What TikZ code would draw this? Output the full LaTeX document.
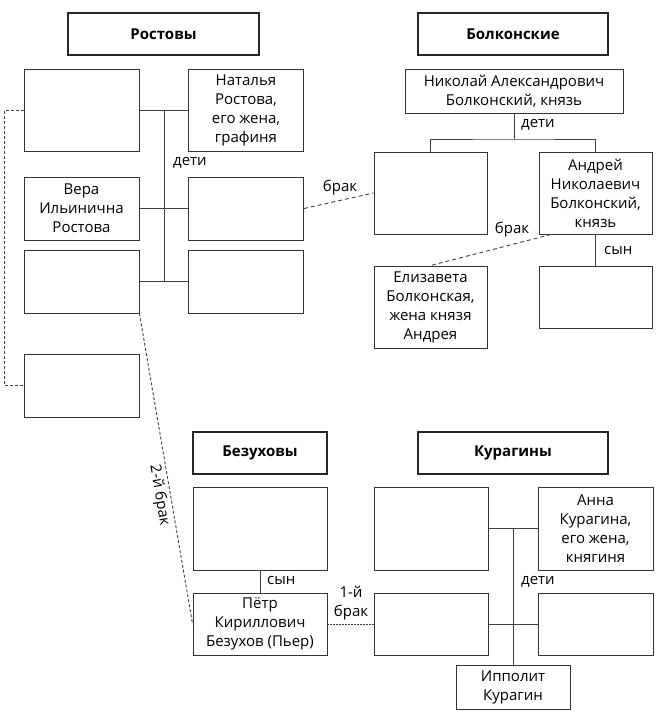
\documentclass[tikz,border=0pt]{standalone}
\usepackage{fontspec}
\setmainfont{Open Sans}
\tikzset{famhead/.style={draw=black!85,line width=2pt,minimum height=42pt,inner sep=0pt,
   font=\bfseries\fontsize{15}{18}\selectfont},
 person/.style={draw=black!80,line width=0.9pt,align=center,inner sep=0pt,
   font=\fontsize{15}{19}\selectfont,text=black},
 bigbox/.style={person,minimum width=115pt,minimum height=82pt},
 smallbox/.style={person,minimum width=115pt,minimum height=63pt},
 link/.style={draw=black!75,line width=0.9pt},
 wed/.style={draw=black!75,line width=0.9pt,dash pattern=on 4pt off 3pt},
 kin/.style={font=\fontsize{15}{19}\selectfont,text=black,inner sep=0pt,align=center},
 }

\begin{document}
\begin{tikzpicture}[x=1pt,y=-1pt]
        \useasboundingbox (0,0) rectangle (670,721);
        \node[famhead,minimum width=191pt] (hRost) at (163.5,34) {Ростовы};
        \node[famhead,minimum width=190pt] (hBolk) at (513,34) {Болконские};
        \node[famhead,minimum width=134pt] (hBez) at (260,453) {Безуховы};
        \node[famhead,minimum width=190pt] (hKur) at (513,453) {Курагины};

        \node[bigbox] (rIlya) at (81.5,110) {};
        \node[bigbox] (rNatalya) at (246,110) {Наталья\\Ростова,\\его жена,\\графиня};
        \node[smallbox] (rVera) at (81.5,208.5) {Вера\\Ильинична\\Ростова};
        \node[smallbox] (rNikolai) at (246,208.5) {};
        \node[smallbox] (rNatasha) at (81.5,281.5) {};
        \node[smallbox] (rPetya) at (246,281.5) {};
        \node[smallbox] (rSonya) at (81.5,385.5) {};
        \coordinate (rTop) at (164,110);
        \coordinate (rBot) at (164,281.5);
        \draw[link] (rIlya.east) -- (rNatalya.west);
        \draw[link] (rVera.east) -- (rNikolai.west);
        \draw[link] (rNatasha.east) -- (rPetya.west);
        \draw[link] (rTop) -- (rBot);
        \node[kin,anchor=west] (rKids) at (173,163) {дети};
        \draw[wed,dash pattern=on 3pt off 2pt] (rIlya.west) -- ++(-19,0) |- (rSonya.west);

        \node[person,minimum width=218pt,minimum height=44pt] (bNikolai) at (514,91) {Николай Александрович\\Болконский, князь};
        \node[bigbox,minimum width=113pt] (bMarya) at (430.5,193) {};
        \node[bigbox,minimum width=113pt] (bAndrei) at (595.5,193) {Андрей\\Николаевич\\Болконский,\\князь};
        \node[bigbox,minimum width=113pt] (bLiza) at (430.5,307) {Елизавета\\Болконская,\\жена князя\\Андрея};
        \node[smallbox,minimum width=113pt,minimum height=62pt] (bSon) at (595.5,297) {};
        \coordinate (bFork) at (514,139);
        \draw[link] (bNikolai.south) -- (bFork);
        \draw[link] (bMarya.north) |- (bFork) -| (bAndrei.north);
        \draw[link] (bAndrei.south) -- (bSon.north);
        \node[kin,anchor=west] (bKids) at (521,125) {дети};
        \node[kin,anchor=west] (bSonLbl) at (604,250) {сын};
        \draw[wed] (rNikolai.east) -- (bMarya.west);
        \node[kin] (wed1) at (340,188) {брак};
        \draw[wed] (bAndrei.223) -- (bLiza.north);
        \node[kin] (wed2) at (512,230) {брак};

        \node[bigbox,minimum width=134pt,minimum height=83pt] (zKirill) at (260,528.5) {};
        \node[smallbox,minimum width=134pt,minimum height=62pt] (zPierre) at (260,624) {Пётр\\Кириллович\\Безухов (Пьер)};
        \draw[link] (zKirill.south) -- (zPierre.north);
        \node[kin,anchor=west] (zSonLbl) at (267,580) {сын};

        \node[bigbox,minimum width=114pt,minimum height=83pt] (kVasily) at (431,528.5) {};
        \node[bigbox,minimum height=83pt] (kAnna) at (595.5,528.5) {Анна\\Курагина,\\его жена,\\княгиня};
        \node[smallbox,minimum width=114pt,minimum height=62pt] (kHelene) at (431,624) {};
        \node[smallbox,minimum height=62pt] (kAnatole) at (595.5,624) {};
        \node[person,minimum width=114pt,minimum height=44pt] (kIppolit) at (513,687) {Ипполит\\Курагин};
        \coordinate (kTop) at (513,528.5);
        \draw[link] (kVasily.east) -- (kAnna.west);
        \draw[link] (kHelene.east) -- (kAnatole.west);
        \draw[link] (kTop) -- (kIppolit.north);
        \node[kin,anchor=west] (kKids) at (521,582) {дети};

        \draw[wed,dash pattern=on 1.5pt off 1.5pt] (zPierre.east) -- (kHelene.west);
        \node[kin] (wedP1) at (351,603) {1-й\\брак};
        \draw[wed,dash pattern=on 3pt off 2pt] (rNatasha.south east) -- (zPierre.west)
            node[kin,pos=.58,sloped,below=3pt] (wedP2) {2-й брак};
\end{tikzpicture}
\end{document}
